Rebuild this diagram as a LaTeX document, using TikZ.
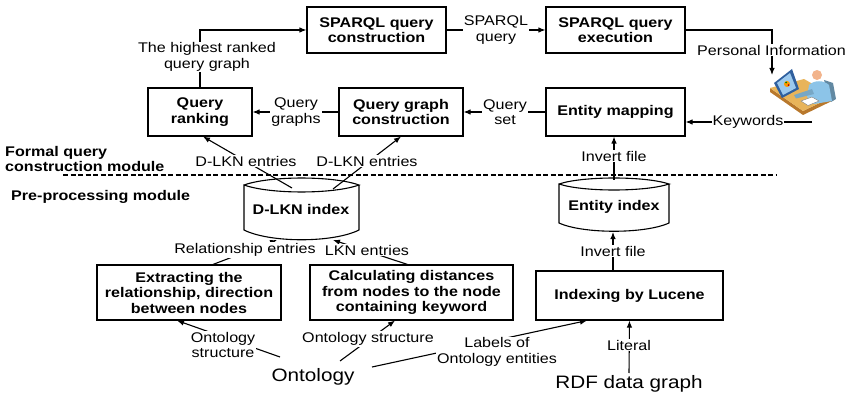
\documentclass[tikz,border=0pt]{standalone}
\usepackage{fontspec}
\setmainfont{Liberation Sans}[FakeStretch=1.15]
\usetikzlibrary{arrows.meta,calc}

\definecolor{desk}{HTML}{E8B45A}
\definecolor{deskedge}{HTML}{B8782C}
\definecolor{monframe}{HTML}{2F5F9E}
\definecolor{screen}{HTML}{9CC9EE}
\definecolor{shirt}{HTML}{8CC4E8}
\definecolor{skin}{HTML}{F2B48C}

\begin{document}
\begin{tikzpicture}[x=1pt,y=-1pt,
  font=\fontsize{14}{15.5}\selectfont,
  box/.style={draw, line width=1.1pt, align=center, inner sep=2pt,
    font=\fontsize{14}{15.5}\selectfont\bfseries},
  lbl/.style={fill=white, inner sep=1pt, align=center},
  arr/.style={-{Latex[length=7pt,width=5.5pt]}, line width=1.1pt},
  big/.style={font=\fontsize{18}{20}\selectfont, inner sep=1pt},
  sect/.style={font=\fontsize{14}{15.5}\selectfont\bfseries, align=left, anchor=west, inner sep=0pt},
  cyl/.style={line width=1.1pt}]

\useasboundingbox (0,0) rectangle (851,398);

% ---- process boxes ----
\node[box, minimum width=139pt, minimum height=46pt] (sqc) at (376.5,30) {SPARQL query\\construction};
\node[box, minimum width=139pt, minimum height=46pt] (sqe) at (615.5,30) {SPARQL query\\execution};
\node[box, minimum width=104pt, minimum height=48pt] (qr)  at (200,112) {Query\\ranking};
\node[box, minimum width=124pt, minimum height=48pt] (qgc) at (401,112) {Query graph\\construction};
\node[box, minimum width=139pt, minimum height=48pt] (em)  at (615.5,112) {Entity mapping};
\node[box, minimum width=184pt, minimum height=55pt] (extr) at (189,292.5) {Extracting the\\relationship, direction\\between nodes};
\node[box, minimum width=203pt, minimum height=55pt] (calc) at (411.5,292.5) {Calculating distances\\from nodes to the node\\containing keyword};
\node[box, minimum width=187pt, minimum height=49pt] (luc) at (629.5,295.5) {Indexing by Lucene};

% ---- index stores (cylinders) ----
\draw[cyl] (244,185) .. controls (270,175.7) and (333,175.7) .. (359,185)
  .. controls (333,194.3) and (270,194.3) .. (244,185) -- (244,230)
  .. controls (270,243) and (333,243) .. (359,230) -- (359,185);
\node[box, draw=none] (dlkn) at (301,209) {D-LKN index};
\coordinate (dlknTL) at (292,188);
\coordinate (dlknTR) at (333,189);
\coordinate (dlknBL) at (277,240);
\coordinate (dlknBR) at (333,240);

\draw[cyl] (559,184) .. controls (583,176) and (645,176) .. (669,184)
  .. controls (645,192) and (583,192) .. (559,184) -- (559,223)
  .. controls (583,234) and (645,234) .. (669,223) -- (669,184);
\node[box, draw=none] (entidx) at (614,207) {Entity index};
\coordinate (entTop) at (614,180);
\coordinate (entBot) at (613,232);

% ---- data sources ----
\node[big] (onto) at (313,377) {Ontology};
\node[big] (rdf) at (629,384) {RDF data graph};
\coordinate (onto1) at (280,357);
\coordinate (onto2) at (340,361);
\coordinate (onto3) at (372,367);
\coordinate (rdfTop) at (629,373);

% ---- user at the desk ----
\fill[deskedge] (770,88) -- (803,111) -- (834,96) -- (834,100) -- (803,115) -- (770,92) -- cycle;
\fill[desk] (770,88) -- (804,79) -- (834,96) -- (803,111) -- cycle;
\fill[monframe] (774,83) -- (792,69) -- (799,89) -- (782,98) -- cycle;
\fill[screen] (777,83) -- (790,73) -- (796,88) -- (783,95) -- cycle;
\fill[orange!80!yellow] (787,84) circle (3);
\fill[green!50!black] (786,82.5) circle (1);
\fill[red!70!black] (788.5,85.2) circle (1);
\fill[shirt!70!black] (824,80) -- (833,83) -- (836,99) -- (831,102) -- cycle;
\fill[shirt] (809,85) .. controls (814,80) and (824,80) .. (829,85) -- (832,101) -- (814,104) -- (807,97) -- cycle;
\fill[shirt!85!black] (812,89) -- (794,95) -- (796,98.5) -- (814,94) -- cycle;
\fill[white, draw=gray, line width=0.4pt] (801,101) -- (812,97) -- (819,101) -- (808,105.5) -- cycle;
\fill[skin] (817,75) circle (5);
\coordinate (userTop) at (772,75);
\coordinate (userOut) at (812,122);

% ---- module separator ----
\draw[line width=1.6pt, dash pattern=on 5pt off 2.5pt] (63,175) -- (777,175);
\node[sect] (modA) at (5,159) {Formal query\\construction module};
\node[sect] (modB) at (11,197) {Pre-processing module};

% ---- connectors ----
\draw[arr] (qr.north) |- (sqc.west);
\draw[arr] (sqc.east) -- (sqe.west);
\draw[arr] (sqe.east) -| (userTop);
\draw[arr] (userOut) -- (userOut -| em.east);
\draw[arr] (em.west) -- (qgc.east);
\draw[arr] (qgc.west) -- (qr.east);
\draw[arr] (dlknTL) -- ([xshift=3pt]qr.south);
\draw[arr] (dlknTR) -- (qgc.south);
\draw[arr] (entTop) -- ([xshift=-1.5pt]em.south);
\draw[arr] ([xshift=24pt]extr.north) -- (dlknBL);
\draw[arr] ([xshift=-4pt]calc.north) -- (dlknBR);
\draw[arr] ([xshift=-16.5pt]luc.north) -- (entBot);
\draw[arr] (onto1) -- ([xshift=-12pt]extr.south);
\draw[arr] (onto2) -- ([xshift=-16.5pt]calc.south);
\draw[arr] (onto3) -- ([xshift=-42.5pt]luc.south);
\draw[arr] (rdfTop) -- (luc.south);

% ---- connector labels ----
\node[lbl] (t1) at (207,57) {The highest ranked\\query graph};
\node[lbl] (t2) at (496,30) {SPARQL\\query};
\node[lbl] (t3) at (771.5,50) {Personal Information};
\node[lbl] (t4) at (748,122) {Keywords};
\node[lbl] (t5) at (505,112) {Query\\set};
\node[lbl] (t6) at (296,112) {Query\\graphs};
\node[lbl] (t7) at (246,161) {D-LKN entries};
\node[lbl] (t8) at (367,161) {D-LKN entries};
\node[lbl] (t9) at (614,156) {Invert file};
\node[lbl] (t10) at (245,250) {Relationship entries};
\node[lbl] (t11) at (367,250) {LKN entries};
\node[lbl] (t12) at (613,251) {Invert file};
\node[lbl] (t13) at (223,345) {Ontology\\structure};
\node[lbl] (t14) at (368,339) {Ontology structure};
\node[lbl] (t15) at (497,352) {Labels of\\Ontology entities};
\node[lbl] (t16) at (629,345) {Literal};

\end{tikzpicture}
\end{document}
